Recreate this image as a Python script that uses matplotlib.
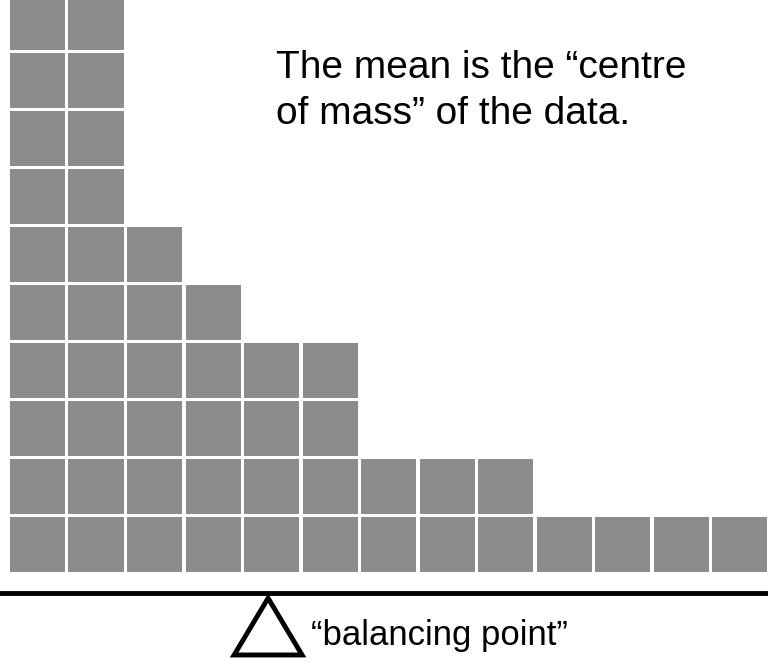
import matplotlib
matplotlib.use("Agg")
import matplotlib.pyplot as plt
from matplotlib.patches import Polygon

plt.rcParams['font.family'] = ['Liberation Sans', 'DejaVu Sans']

counts = [10, 10, 6, 5, 4, 4, 2, 2, 2, 1, 1, 1, 1]
title_lines = ["The mean is the \u201ccentre", "of mass\u201d of the data."]
pivot_label = "\u201cbalancing point\u201d"
pivot_x = 4.41

fig = plt.figure(figsize=(7.68, 6.66), dpi=100)
ax = fig.add_axes([0, 0, 1, 1])
ax.set_xlim(-0.17, 12.95)
ax.set_ylim(-1.62, 9.86)
ax.axis('off')

for col, n in enumerate(counts):
    for level in range(n):
        ax.bar(col + 0.47, 0.94, width=0.94, bottom=level, color='#8c8c8c',
               align='center', linewidth=0)

ax.axhline(-0.36, color='black', linewidth=3.5)
tri = Polygon([[pivot_x, -0.45], [pivot_x - 0.58, -1.43], [pivot_x + 0.58, -1.43]],
              closed=True, facecolor='white', edgecolor='black', linewidth=3.5)
ax.add_patch(tri)
ax.text(5.15, -1.09, pivot_label, fontsize=25, va='center', ha='left')

ax.text(4.55, 8.69, title_lines[0], fontsize=28, va='center', ha='left')
ax.text(4.55, 7.9, title_lines[1], fontsize=28, va='center', ha='left')

fig.savefig("out.png", dpi=100)
